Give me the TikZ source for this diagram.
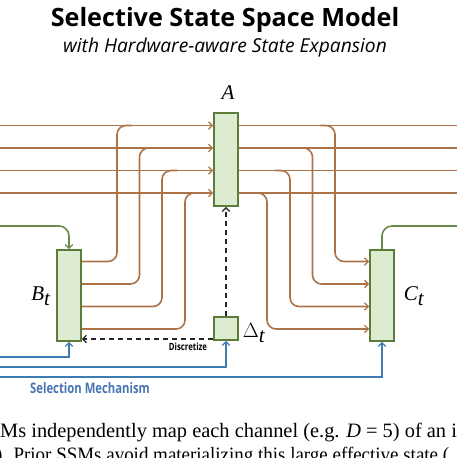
\documentclass[tikz,border=0pt]{standalone}
\usepackage{fontspec}
\setsansfont{Open Sans}
\setmainfont{Liberation Serif}
\newfontfamily\condsans[FakeStretch=0.78]{Open Sans}
\newfontfamily\serifnarrow[FakeStretch=0.93]{Liberation Serif}
\usetikzlibrary{arrows.meta,calc}
\definecolor{orangeline}{RGB}{172,114,72}
\definecolor{greenline}{RGB}{104,138,76}
\definecolor{boxborder}{RGB}{92,124,58}
\definecolor{boxfill}{RGB}{221,236,208}
\definecolor{blueline}{RGB}{62,124,177}
\definecolor{bluetext}{RGB}{72,116,178}
\newcommand{\lbl}[2]{$\textit{#1}_{\textit{#2}}$}
\tikzset{
  tip/.tip={Straight Barb[length=3.5pt,width=7.5pt,line width=1.3pt]},
  statebox/.style={draw=boxborder,fill=boxfill,line width=2pt,inner sep=0pt,minimum width=24pt},
  oline/.style={draw=orangeline,line width=1.6pt},
  gline/.style={draw=greenline,line width=1.6pt},
  bline/.style={draw=blueline,line width=2pt},
  dline/.style={draw=black!85,line width=1.2pt,dash pattern=on 5pt off 4pt},
  mathlab/.style={font=\fontsize{21}{24}\selectfont,inner sep=0pt},
  bodytext/.style={anchor=base west,inner sep=0pt,font=\fontsize{20.4}{24}\selectfont},
}
\begin{document}
\begin{tikzpicture}[x=1pt,y=-1pt]
\useasboundingbox (0,0) rectangle (457,458);
\clip (0,0) rectangle (457,458);
% titles
\node[font=\sffamily\bfseries\fontsize{25.2}{29}\selectfont] (title) at (225,20) {Selective State Space Model};
\node[font=\sffamily\itshape\fontsize{19.2}{22}\selectfont] (subtitle) at (225,48) {with Hardware-aware State Expansion};
% boxes
\node[statebox,minimum height=93pt] (A) at (226,159.5) {};
\node[statebox,minimum height=91pt] (B) at (69,295.5) {};
\node[statebox,minimum height=91pt] (C) at (382,295.5) {};
\node[statebox,minimum height=23pt] (dt) at (226,328.5) {};
% labels
\node[mathlab] (Alab) at (228,93) {\textit{A}};
\node[mathlab] (Blab) at (41,296) {\lbl{B}{t}};
\node[mathlab] (Clab) at (414,296) {\lbl{C}{t}};
\node[mathlab] (dlab) at (254,333) {$\Delta_{\textit{t}}$};
% orange lines
\foreach \y/\yb/\xl/\xr in {125.5/261.5/117/335, 148/284/139.5/312.5, 170.5/306.5/162/290, 193/329/185/267}{
  \draw[oline,-tip] (0,\y) -- (A.west |- 0,\y);
  \draw[oline] (A.east |- 0,\y) -- (457,\y);
  \draw[oline,rounded corners=9pt] (B.east |- 0,\yb) -| (\xl,\y) -- (\xl+15,\y);
  \draw[oline,-tip,rounded corners=9pt] (\xr-15,\y) -| (\xr,\yb) -- (C.west |- 0,\yb);
}
% green lines
\coordinate (gin) at (0,226);
\coordinate (gout) at (457,226);
\draw[gline,-tip,rounded corners=10pt] (gin) -| (B.north);
\draw[gline,rounded corners=10pt] (C.north) |- (gout);
% blue lines
\coordinate (b1) at (0,357);
\coordinate (b2) at (0,367);
\coordinate (b3) at (0,377);
\draw[bline,-tip] (b1) -| (B.south);
\draw[bline,-tip] (b2) -| (dt.south);
\draw[bline,-tip] (b3) -| (C.south);
\node[font=\condsans\bfseries\fontsize{14.5}{16}\selectfont,text=bluetext] (sel) at (90,388) {Selection Mechanism};
% dashed
\draw[dline,-tip] (dt.north) -- (A.south);
\draw[dline,-tip] (dt.west |- 0,339) -- (B.east |- 0,339);
\node[font=\condsans\bfseries\fontsize{10}{11}\selectfont] (disc) at (188,347) {Discretize};
% bottom text
\node[bodytext] (t1) at (0,437) {Ms independently map each channel (e.g. \textit{D} = 5) of an i};
\node[bodytext,font=\serifnarrow\fontsize{20.4}{24}\selectfont] (t2) at (-4,461) {). Prior SSMs avoid materializing this large effective state (};
\end{tikzpicture}
\end{document}
